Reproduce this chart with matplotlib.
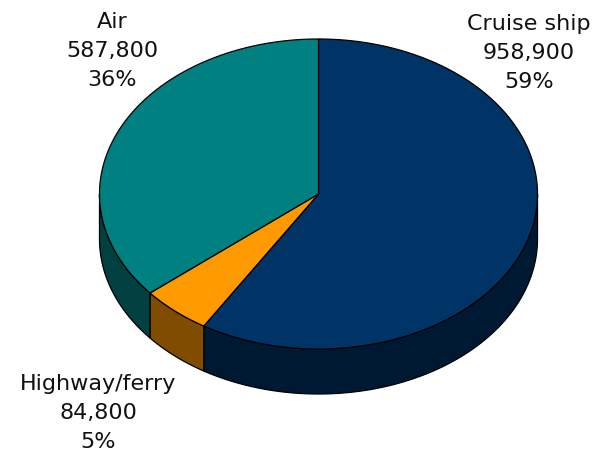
import numpy as np
import matplotlib
matplotlib.use("Agg")
import matplotlib.pyplot as plt
from matplotlib.patches import Polygon

# Visitor arrivals by mode of transport
categories = ["Cruise ship", "Highway/ferry", "Air"]
values = [958900, 84800, 587800]
top_colors = ["#003366", "#FF9900", "#008080"]
side_colors = ["#001933", "#804C00", "#004040"]

# Geometry of the tilted pie (in figure pixel units)
W, H = 610, 457
cx, cy = 318.5, 194.0
rx, ry = 219.0, 155.0
depth = 45.0

fig = plt.figure(figsize=(W / 100, H / 100), dpi=100)
ax = fig.add_axes([0, 0, 1, 1])
ax.set_xlim(0, W)
ax.set_ylim(H, 0)
ax.axis("off")


def pt(theta, dz=0.0):
    return cx + rx * np.cos(theta), cy - ry * np.sin(theta) + dz


total = float(sum(values))
fracs = [v / total for v in values]

# slice angle ranges: start at 12 o'clock, go clockwise
bounds = []
start = 90.0
for f in fracs:
    end = start - f * 360.0
    bounds.append((end, start))
    start = end

# side walls: only the part facing the viewer (180..360 deg) is visible
for (a_lo, a_hi), col in zip(bounds, side_colors):
    for shift in (-360.0, 0.0, 360.0):
        lo = max(a_lo + shift, 180.0)
        hi = min(a_hi + shift, 360.0)
        if hi <= lo:
            continue
        t = np.radians(np.linspace(lo, hi, 120))
        xs, ys = pt(t)
        xb, yb = pt(t[::-1], depth)
        verts = np.column_stack([np.r_[xs, xb], np.r_[ys, yb]])
        ax.add_patch(Polygon(verts, closed=True, facecolor=col,
                             edgecolor="black", linewidth=0.9, zorder=1))

# top faces
for (a_lo, a_hi), col in zip(bounds, top_colors):
    t = np.radians(np.linspace(a_hi, a_lo, 300))
    xs, ys = pt(t)
    verts = np.column_stack([np.r_[cx, xs], np.r_[cy, ys]])
    ax.add_patch(Polygon(verts, closed=True, facecolor=col,
                         edgecolor="black", linewidth=0.9, zorder=2))

# labels
label_pos = [(529, 53), (98, 413), (112, 51)]
for name, v, f, (lx, ly) in zip(categories, values, fracs, label_pos):
    ax.text(lx, ly, f"{name}\n{v:,}\n{round(f * 100):.0f}%",
            ha="center", va="center", fontsize=16, linespacing=1.55,
            family="DejaVu Sans", color="#111111", zorder=3)

fig.savefig("out.png", dpi=100)
